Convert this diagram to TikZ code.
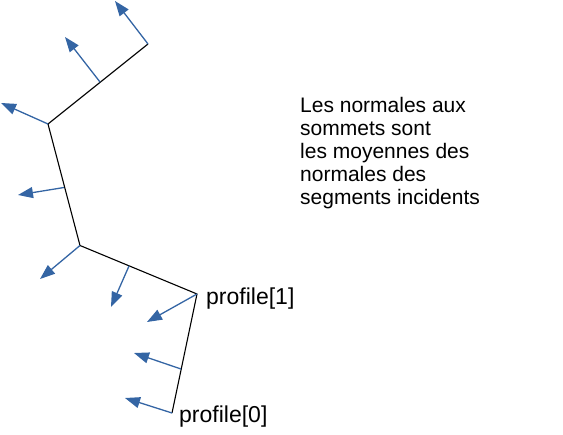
\documentclass[tikz,border=0pt]{standalone}
\usepackage{fontspec}
\setmainfont{Liberation Sans}
\usetikzlibrary{arrows.meta}
\definecolor{normblue}{RGB}{52,101,164}
\begin{document}
\begin{tikzpicture}[x=1pt,y=-1pt,
	normale/.style={draw=normblue,line width=1.3pt,-{Triangle[length=15pt,width=11pt]}},
	legende/.style={inner sep=0pt,font=\fontsize{21}{23}\selectfont},
	sommet/.style={inner sep=0pt,font=\fontsize{23}{25}\selectfont}]
	\useasboundingbox (0,0) rectangle (563,435);
	\coordinate (P0) at (172, 413);
	\coordinate (P1) at (197, 294);
	\coordinate (P2) at ( 80, 245.5);
	\coordinate (P3) at ( 48, 124);
	\coordinate (P4) at (148,  44);
	\coordinate (M01) at (181, 369);
	\coordinate (M12) at (129, 266);
	\coordinate (M23) at ( 64, 187.5);
	\coordinate (M34) at (100,  82);
	\coordinate (N0) at (125, 398);
	\coordinate (N01) at (134, 353);
	\coordinate (N1) at (147, 322);
	\coordinate (N12) at (111, 307);
	\coordinate (N2) at ( 40, 279);
	\coordinate (N23) at ( 18, 195);
	\coordinate (N3) at (  1, 103);
	\coordinate (N34) at ( 65,  37);
	\coordinate (N4) at (115,   1);
	\draw[line width=1.1pt] (P0) -- (P1) -- (P2) -- (P3) -- (P4);
	\draw[normale] (P0) -- (N0);
	\draw[normale] (M01) -- (N01);
	\draw[normale] (P1) -- (N1);
	\draw[normale] (M12) -- (N12);
	\draw[normale] (P2) -- (N2);
	\draw[normale] (M23) -- (N23);
	\draw[normale] (P3) -- (N3);
	\draw[normale] (M34) -- (N34);
	\draw[normale] (P4) -- (N4);
	\node (L0) at (179, 423) [sommet, anchor=base west] {profile[0]};
	\node (L1) at (206, 305) [sommet, anchor=base west] {profile[1]};
	\node (T) at (300, 97) [legende, anchor=north west, align=left] {Les normales aux\\sommets sont\\les moyennes des\\normales des\\segments incidents};
\end{tikzpicture}
\end{document}
